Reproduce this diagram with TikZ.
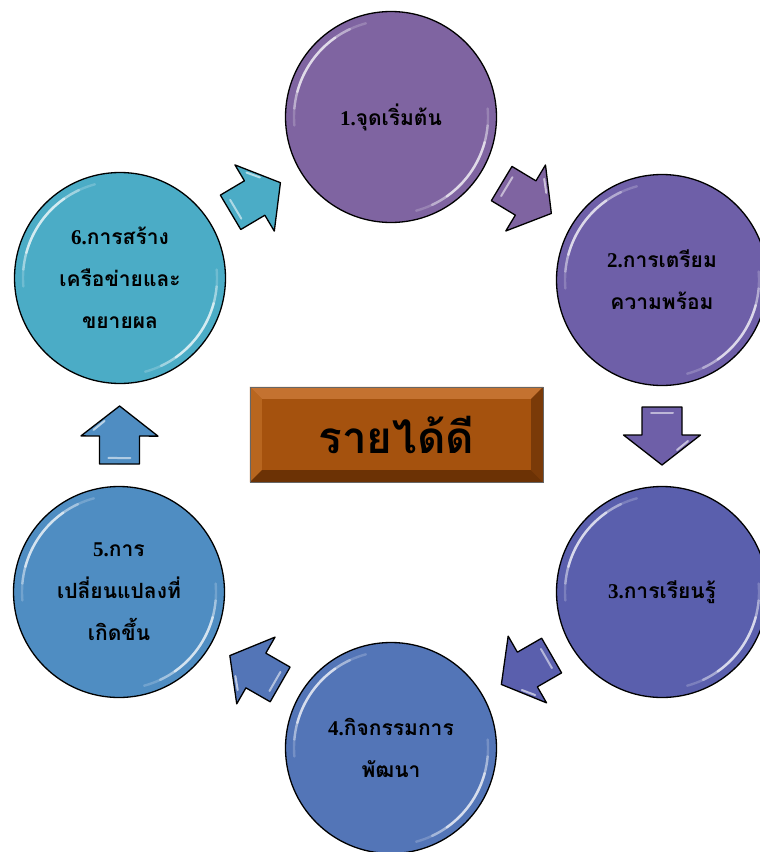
\documentclass[tikz,border=0pt]{standalone}
\usepackage{fontspec}
\newfontfamily\thaifont[Script=Thai]{Loma}
\newfontfamily\numfont{Liberation Serif}
\usetikzlibrary{calc}
\definecolor{cA}{HTML}{7F64A1}
\definecolor{cB}{HTML}{6E5FA8}
\definecolor{cC}{HTML}{5A5FAD}
\definecolor{cD}{HTML}{5375B7}
\definecolor{cE}{HTML}{4F8DC2}
\definecolor{cF}{HTML}{4BACC6}
\definecolor{boxface}{HTML}{A5520E}
\definecolor{boxtop}{HTML}{C47230}
\definecolor{boxleft}{HTML}{B8661F}
\definecolor{boxright}{HTML}{7A3A08}
\definecolor{boxbottom}{HTML}{6C3205}
\tikzset{
  stage/.style={circle, draw=black, line width=1.3pt, minimum size=211pt,
    inner sep=0pt, align=center, text=black,
    font=\thaifont\bfseries\fontsize{21pt}{42pt}\selectfont},
  gloss/.style={white, line cap=round},
  arrowbody/.style={draw=black, line width=1.3pt, line join=round},
  cycarrow/.pic={
    \path[pic actions] (-29,-20) -- (-1,-20) -- (-1,-38.5) -- (29,0)
      -- (-1,38.5) -- (-1,20) -- (-29,20) -- cycle;
    \draw[white, opacity=0.55, line width=2pt, line cap=round] (-23,-11) -- (-23,11);
    \draw[white, opacity=0.6, line width=2pt, line cap=round] (5,-26) -- (14,-15);
  }
}
\newcommand\glossify[1]{%
  \foreach \a/\b/\o in {195/235/0.55, 185/245/0.35, 175/255/0.2}{
    \draw[gloss, opacity=\o, line width=2.4pt] ($(#1.center)+(\a:97)$) arc[start angle=\a, end angle=\b, radius=97];
  }
  \foreach \a/\b/\o in {15/55/0.55, 5/65/0.35, -5/75/0.2}{
    \draw[gloss, opacity=\o, line width=2.4pt] ($(#1.center)+(\a:97)$) arc[start angle=\a, end angle=\b, radius=97];
  }
}
\newcommand\linkarrow[3]{%
  \path let \p1=($(#2)-(#1)$), \n1={atan2(\y1,\x1)} in
    ($(#1)!0.5!(#2)$) pic[rotate=\n1, fill=#3, arrowbody] {cycarrow};
}
\begin{document}
\begin{tikzpicture}[x=1pt, y=-1pt]
\useasboundingbox (0,0) rectangle (760,852);
\fill[white] (0,0) rectangle (760,852);

% stages
\node[stage, fill=cA] (c1) at (391,117) {{\numfont\bfseries 1.}จุดเริ่มต้น};
\node[stage, fill=cB] (c2) at (662,280) {{\numfont\bfseries 2.}การเตรียม\\ความพร้อม};
\node[stage, fill=cC] (c3) at (662,592) {{\numfont\bfseries 3.}การเรียนรู้};
\node[stage, fill=cD] (c4) at (391,748) {{\numfont\bfseries 4.}กิจกรรมการ\\พัฒนา};
\node[stage, fill=cE] (c5) at (119,592) {{\numfont\bfseries 5.}การ\\เปลี่ยนแปลงที่\\เกิดขึ้น};
\node[stage, fill=cF] (c6) at (120,278) {{\numfont\bfseries 6.}การสร้าง\\เครือข่ายและ\\ขยายผล};

\glossify{c1}\glossify{c2}\glossify{c3}\glossify{c4}\glossify{c5}\glossify{c6}

% arrows
\linkarrow{c1}{c2}{cA}
\linkarrow{c2}{c3}{cB}
\linkarrow{c3}{c4}{cC}
\linkarrow{c4}{c5}{cD}
\linkarrow{c5}{c6}{cE}
\linkarrow{c6}{c1}{cF}

% central bevelled box
\node[rectangle, fill=boxface, minimum width=293pt, minimum height=95pt, inner sep=0pt] (box) at (396.5,434.5) {};
\fill[boxtop] (box.north west) -- (box.north east) -- ($(box.north east)+(-12,12)$) -- ($(box.north west)+(12,12)$) -- cycle;
\fill[boxleft] (box.north west) -- ($(box.north west)+(12,12)$) -- ($(box.south west)+(12,-12)$) -- (box.south west) -- cycle;
\fill[boxright] (box.north east) -- (box.south east) -- ($(box.south east)+(-12,-12)$) -- ($(box.north east)+(-12,12)$) -- cycle;
\fill[boxbottom] (box.south west) -- ($(box.south west)+(12,-12)$) -- ($(box.south east)+(-12,-12)$) -- (box.south east) -- cycle;
\draw[black!60, line width=0.6pt] (box.north west) rectangle (box.south east);
\node[text=black, font=\thaifont\bfseries\fontsize{44pt}{50pt}\selectfont] (boxtext) at (box.center) {รายได้ดี};
\end{tikzpicture}
\end{document}
